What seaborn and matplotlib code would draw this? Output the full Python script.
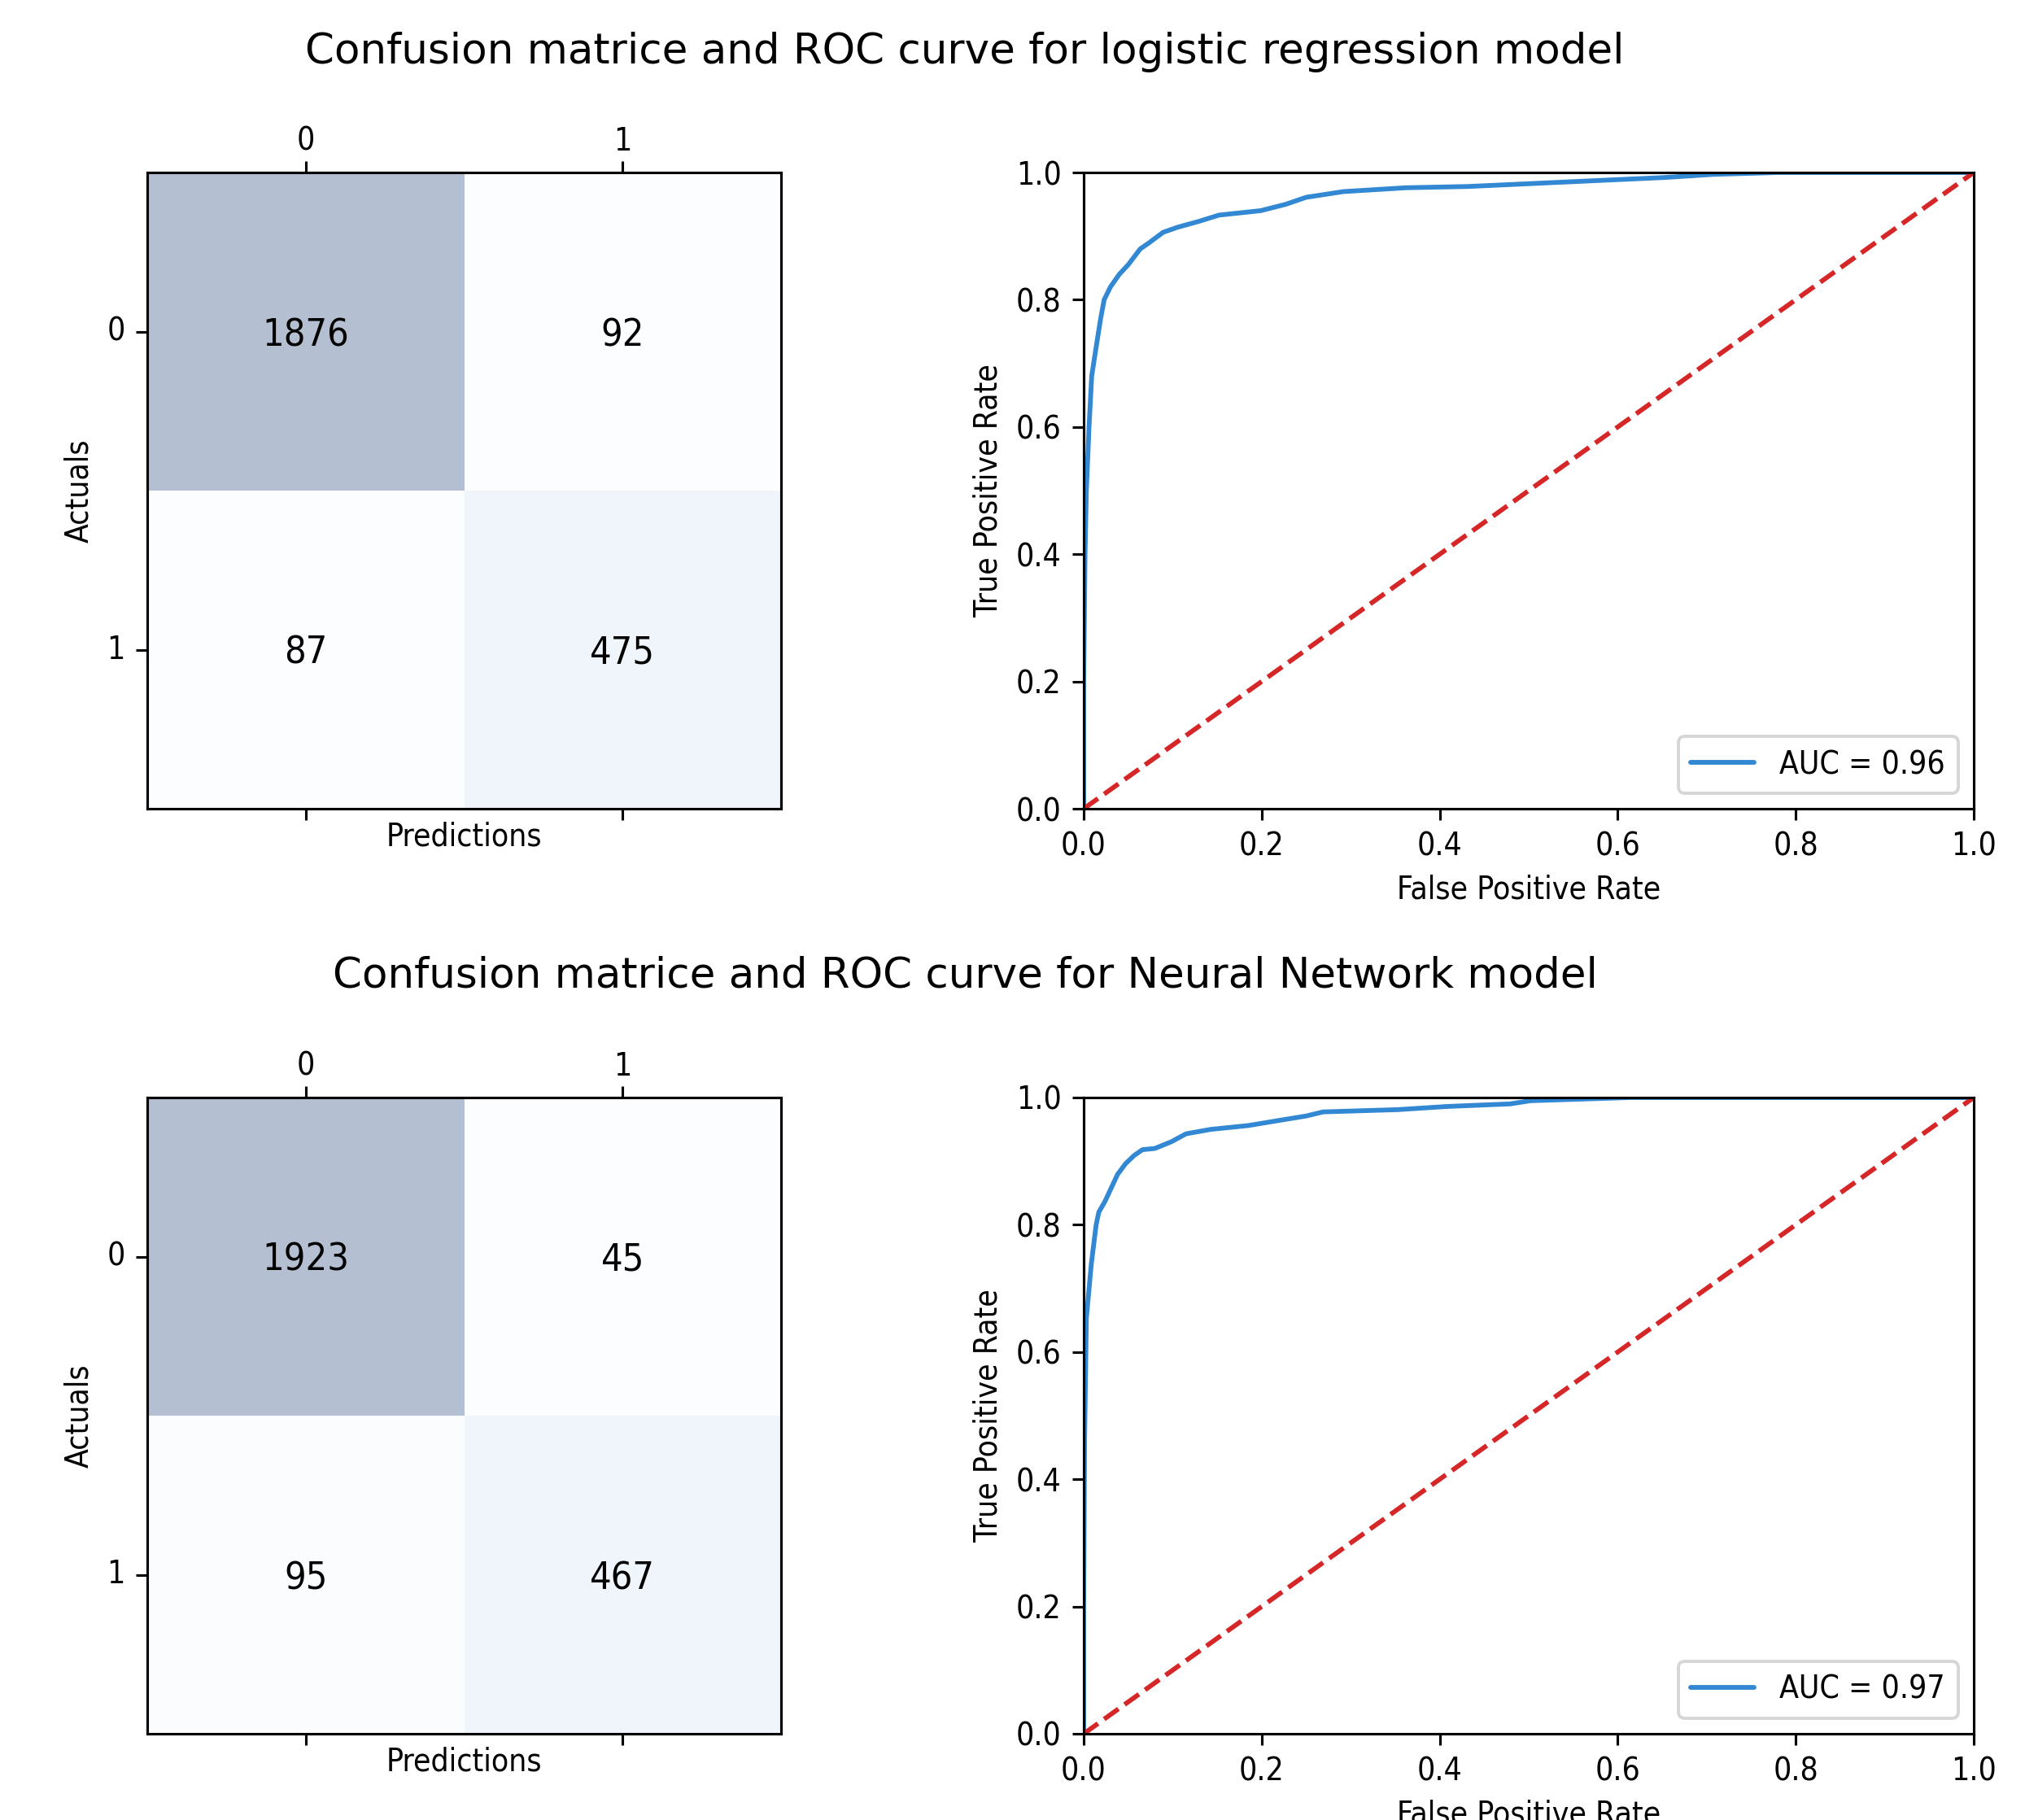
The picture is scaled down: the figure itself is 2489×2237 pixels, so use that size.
import numpy as np
import pandas as pd
import matplotlib
matplotlib.use("Agg")
import matplotlib.pyplot as plt
import seaborn as sns

# ---------------- data ----------------
classes = [0, 1]

cm_logreg = [[1876, 92],
             [87, 475]]
cm_nn = [[1923, 45],
         [95, 467]]

fpr_logreg = [0.0, 0.0, 0.0015, 0.003, 0.006, 0.009, 0.0146, 0.019, 0.023, 0.030,
              0.040, 0.050, 0.0636, 0.073, 0.0893, 0.1057, 0.129, 0.152, 0.199, 0.227,
              0.250, 0.292, 0.362, 0.432, 0.502, 0.572, 0.651, 0.707, 0.78, 1.0]
tpr_logreg = [0.0, 0.20, 0.40, 0.50, 0.60, 0.68, 0.731, 0.77, 0.80, 0.82,
              0.84, 0.855, 0.88, 0.889, 0.906, 0.914, 0.923, 0.933, 0.94, 0.95,
              0.961, 0.970, 0.976, 0.978, 0.9825, 0.987, 0.992, 0.997, 1.0, 1.0]

fpr_nn = [0.0, 0.0, 0.001, 0.003, 0.0086, 0.0123, 0.014, 0.017, 0.024, 0.031,
          0.038, 0.047, 0.0567, 0.066, 0.080, 0.0986, 0.115, 0.143, 0.185, 0.222,
          0.250, 0.269, 0.353, 0.409, 0.479, 0.502, 0.614, 1.0]
tpr_nn = [0.0, 0.20, 0.46, 0.653, 0.739, 0.781, 0.80, 0.82, 0.837, 0.858,
          0.879, 0.896, 0.909, 0.918, 0.92, 0.9306, 0.943, 0.95, 0.956, 0.9646,
          0.971, 0.9774, 0.981, 0.986, 0.99, 0.995, 1.0, 1.0]

auc_logreg = 0.96
auc_nn = 0.97

chance_x = [0.0, 1.0]
chance_y = [0.0, 1.0]

roc_ticks = [0.0, 0.2, 0.4, 0.6, 0.8, 1.0]

titles = ["Confusion matrice and ROC curve for logistic regression model",
          "Confusion matrice and ROC curve for Neural Network model"]

# ---------------- style ----------------
sns.set_theme(style="ticks")
plt.rcParams.update({
    "font.family": ["DejaVu Sans"],
    "font.stretch": "condensed",
    "font.size": 10,
    "axes.labelsize": 10,
    "xtick.labelsize": 10,
    "ytick.labelsize": 10,
    "legend.fontsize": 10,
    "axes.edgecolor": "black",
    "axes.linewidth": 0.8,
    "xtick.color": "black",
    "ytick.color": "black",
    "text.color": "black",
    "axes.labelcolor": "black",
    "xtick.major.width": 0.8,
    "ytick.major.width": 0.8,
    "xtick.major.size": 3.5,
    "ytick.major.size": 3.5,
    "xtick.major.pad": 3.5,
    "ytick.major.pad": 3.5,
    "axes.labelpad": 4.0,
})

W, H, DPI = 2489, 2237, 280
fig = plt.figure(figsize=(W / DPI, H / DPI), dpi=DPI)
fig.patch.set_facecolor("white")


def frac_box(x0, y0, x1, y1):
    return [x0 / W, 1 - y1 / H, (x1 - x0) / W, (y1 - y0) / H]


rows = [
    dict(cm=cm_logreg, fpr=fpr_logreg, tpr=tpr_logreg, auc=auc_logreg,
         title=titles[0], ty=64, y0=212, y1=994),
    dict(cm=cm_nn, fpr=fpr_nn, tpr=tpr_nn, auc=auc_nn,
         title=titles[1], ty=1200, y0=1349, y1=2131),
]

for r in rows:
    # confusion matrix
    ax_cm = fig.add_axes(frac_box(181, r["y0"], 960, r["y1"]))
    cm_df = pd.DataFrame(r["cm"], index=classes, columns=classes)
    sns.heatmap(cm_df, ax=ax_cm, cmap="Blues", alpha=0.3, cbar=False,
                annot=True, fmt="d", linewidths=0,
                annot_kws={"color": "black", "fontsize": 12,
                           "va": "center_baseline"})
    for s in ax_cm.spines.values():
        s.set_visible(True)
        s.set_color("black")
        s.set_linewidth(0.8)
    ax_cm.tick_params(axis="x", top=True, bottom=True, labeltop=True,
                      labelbottom=False, length=3.5, width=0.8, pad=1.5)
    ax_cm.tick_params(axis="y", left=True, right=False, length=3.5, width=0.8)
    ax_cm.set_yticklabels([str(c) for c in classes], rotation=0)
    ax_cm.set_xticklabels([str(c) for c in classes], rotation=0)
    ax_cm.set_xlabel("Predictions", labelpad=0.5)
    ax_cm.xaxis.set_label_position("bottom")
    ax_cm.set_ylabel("Actuals")

    # ROC curve
    ax_roc = fig.add_axes(frac_box(1332, r["y0"], 2426, r["y1"]))
    sns.lineplot(x=r["fpr"], y=r["tpr"], ax=ax_roc, sort=False, estimator=None,
                 color="#3288d2", linewidth=1.5, label="AUC = %0.2f" % r["auc"])
    sns.lineplot(x=chance_x, y=chance_y, ax=ax_roc, sort=False, estimator=None,
                 color="#d62728", linewidth=1.5, linestyle="--")
    ax_roc.set_xlim(0, 1)
    ax_roc.set_ylim(0, 1)
    ax_roc.set_xticks(roc_ticks)
    ax_roc.set_yticks(roc_ticks)
    ax_roc.set_xlabel("False Positive Rate")
    ax_roc.set_ylabel("True Positive Rate")
    ax_roc.legend(loc="lower right", frameon=True, framealpha=0.8,
                  edgecolor="0.8", fancybox=True)

    fig.text(1186 / W, 1 - r["ty"] / H, r["title"], ha="center", va="center",
             fontsize=13.25, fontstretch="normal")

fig.savefig("out.png", dpi=DPI, facecolor="white")
